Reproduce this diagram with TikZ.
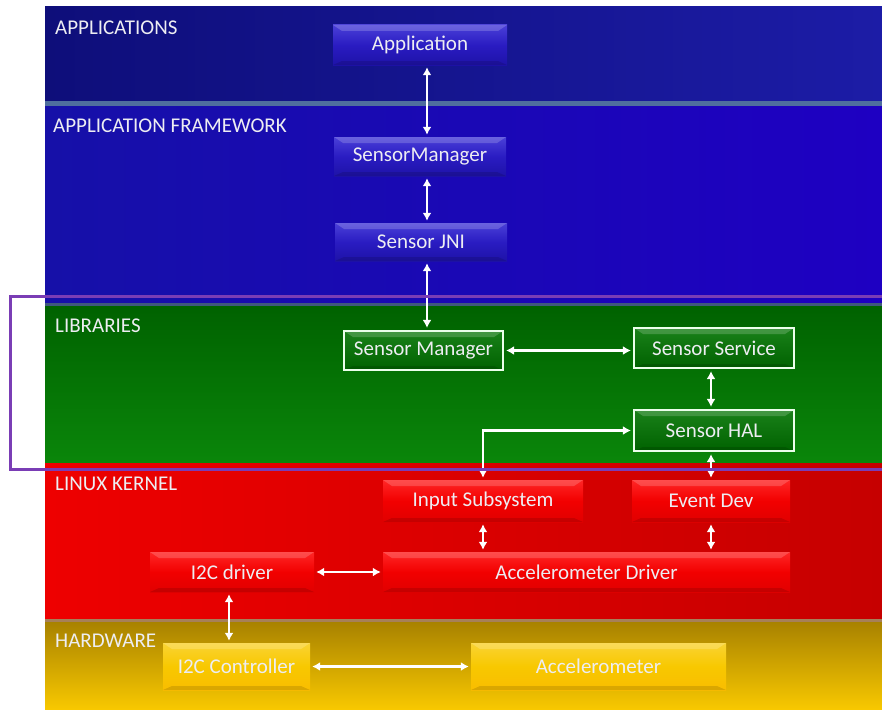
\documentclass[tikz,border=0pt]{standalone}
\usepackage{fontspec}
\setmainfont{Carlito}
\usepackage{tikz}
\usetikzlibrary{arrows.meta,calc}

\definecolor{appsL}{HTML}{0E0E7A}
\definecolor{appsR}{HTML}{1C1CA6}
\definecolor{fwL}{HTML}{1610A8}
\definecolor{fwR}{HTML}{1E00C2}
\definecolor{sepblue}{HTML}{4F6E9E}
\definecolor{libTop}{HTML}{006200}
\definecolor{libBot}{HTML}{0A860A}
\definecolor{kerL}{HTML}{EE0000}
\definecolor{kerR}{HTML}{C60000}
\definecolor{hwTop}{HTML}{A88200}
\definecolor{hwBot}{HTML}{F8C800}
\definecolor{framepurple}{HTML}{7A3DB5}
\definecolor{txt}{HTML}{EDEDF2}
\definecolor{boxTop}{HTML}{4A40D8}
\definecolor{boxMid}{HTML}{2A1CC2}
\definecolor{boxBot}{HTML}{1E12A8}

\begin{document}
\begin{tikzpicture}[x=1pt, y=-1pt,
  lbl/.style={font=\fontsize{21}{24}\selectfont, text=txt, anchor=west, inner sep=0pt},
  bevel/.style={path picture={
    \fill[white, opacity=0.18] (path picture bounding box.north west) -- (path picture bounding box.north east)
      -- ([xshift=-9pt, yshift=-6pt]path picture bounding box.north east) -- ([xshift=9pt, yshift=-6pt]path picture bounding box.north west) -- cycle;
    \fill[black, opacity=0.12] (path picture bounding box.south west) -- (path picture bounding box.south east)
      -- ([xshift=-9pt, yshift=4pt]path picture bounding box.south east) -- ([xshift=9pt, yshift=4pt]path picture bounding box.south west) -- cycle;}},
  box/.style={rectangle, bevel, inner sep=0pt, font=\fontsize{21}{24}\selectfont, text=txt},
  bluebox/.style={box, top color=boxTop, bottom color=boxBot, middle color=boxMid},
  greenbox/.style={box, top color=green!45!black!90!white, bottom color=libTop, draw=white!92!green, line width=2.2pt},
  redbox/.style={box, top color=red!85!white, bottom color=red!88!black, middle color=red!95!black},
  goldbox/.style={box, top color=hwBot!80!white, bottom color=hwBot!85!orange, middle color=hwBot},
  link/.style={white, line width=2.4pt, {Latex[length=8pt,width=9pt]}-{Latex[length=8pt,width=9pt]}, shorten >=2pt, shorten <=2pt}
]
\useasboundingbox (0,0) rectangle (882,709);

% Layer bands
\shade[left color=appsL, right color=appsR] (45,7) rectangle (882,101);
\fill[sepblue] (45,101) rectangle (882,106);
\shade[left color=fwL, right color=fwR] (45,106) rectangle (882,303);
\fill[sepblue!80!black] (45,303) rectangle (882,306);
\shade[top color=libTop, bottom color=libBot] (45,306) rectangle (882,463);
\shade[left color=kerL, right color=kerR] (45,463) rectangle (882,620);
\fill[brown!60!gray] (45,619) rectangle (882,622);
\shade[top color=hwTop, bottom color=hwBot] (45,622) rectangle (882,709);

% Layer names
\node[lbl] (lapps) at (55,28) {APPLICATIONS};
\node[lbl] (lfw) at (53,126) {APPLICATION FRAMEWORK};
\node[lbl] (llib) at (55,326) {LIBRARIES};
\node[lbl] (lker) at (55,484) {LINUX KERNEL};
\node[lbl] (lhw) at (55,641) {HARDWARE};

% Blocks
\node[bluebox, minimum width=174pt, minimum height=40pt] (app) at (420,45) {Application};
\node[bluebox, minimum width=172pt, minimum height=39pt] (fwmgr) at (420,156.5) {SensorManager};
\node[bluebox, minimum width=172pt, minimum height=38pt] (jni) at (421,242) {Sensor JNI};

\node[greenbox, minimum width=159pt, minimum height=39pt] (libmgr) at (423.5,350.5) {Sensor Manager};
\node[greenbox, minimum width=160pt, minimum height=40pt] (service) at (714,348) {Sensor Service};
\node[greenbox, minimum width=160pt, minimum height=41pt] (hal) at (714,430.5) {Sensor HAL};

\node[redbox, minimum width=200pt, minimum height=42pt] (input) at (483,501) {Input Subsystem};
\node[redbox, minimum width=158pt, minimum height=42pt] (evdev) at (711,501) {Event Dev};
\node[redbox, minimum width=407pt, minimum height=40pt] (acceldrv) at (586.5,572) {Accelerometer Driver};
\node[redbox, minimum width=164pt, minimum height=40pt] (i2cdrv) at (232,572) {I2C driver};

\node[goldbox, minimum width=147pt, minimum height=47pt] (i2cctl) at (236.5,666.5) {I2C Controller};
\node[goldbox, minimum width=255pt, minimum height=47pt] (accel) at (598.5,666.5) {Accelerometer};

% Connectors
\coordinate (spine) at (427,0);
\coordinate (halx) at (711,0);
\coordinate (i2cx) at (229,0);
\draw[link] (app.south -| spine) -- (fwmgr.north -| spine);
\draw[link] (fwmgr.south -| spine) -- (jni.north -| spine);
\draw[link] (jni.south -| spine) -- (libmgr.north -| spine);
\draw[link] (libmgr.east) -- (libmgr.east -| service.west);
\draw[link] (service.south -| halx) -- (hal.north -| halx);
\draw[link] (input.north) |- (hal.west);
\draw[link] (hal.south -| halx) -- (evdev.north -| halx);
\draw[link] (input.south) -- (input.south |- acceldrv.north);
\draw[link] (evdev.south -| halx) -- (acceldrv.north -| halx);
\draw[link] (i2cdrv.east) -- (acceldrv.west);
\draw[link] (i2cdrv.south -| i2cx) -- (i2cctl.north -| i2cx);
\draw[link] (i2cctl.east) -- (accel.west);

% Highlight frame
\draw[framepurple, line width=3pt] (882,296) -| (10,469) -- (882,469);
\end{tikzpicture}
\end{document}
